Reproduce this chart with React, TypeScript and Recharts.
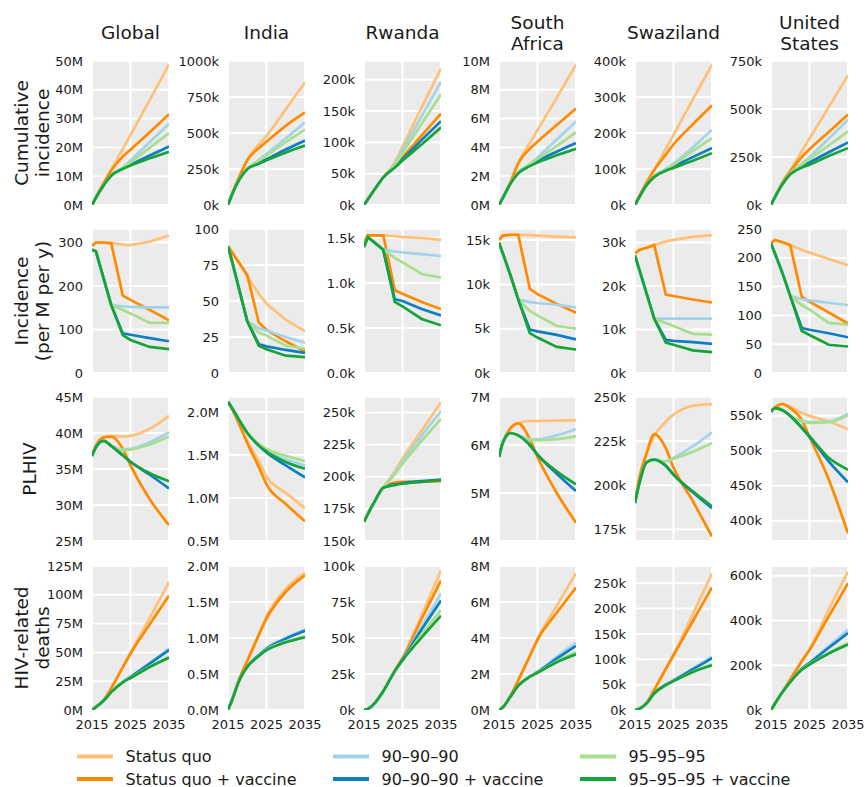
import React from 'react';
import { LineChart, Line, XAxis, YAxis, CartesianGrid } from 'recharts';

const YEARS = [2015, 2016, 2018, 2020, 2023, 2025, 2030, 2035];
const X_DOMAIN: [number, number] = [2015, 2035];
const YEAR_TICKS = [2015, 2025, 2035];

const SCENARIOS = ['Status quo', 'Status quo + vaccine', '90–90–90', '90–90–90 + vaccine', '95–95–95', '95–95–95 + vaccine'];
const COLORS = ['#FFC078', '#FF8A00', '#A3D3E8', '#0E7DC2', '#A8DF8E', '#16A33A'];

const REGIONS = [['Global'], ['India'], ['Rwanda'], ['South', 'Africa'], ['Swaziland'], ['United', 'States']];
const MEASURES = [['Cumulative', 'incidence'], ['Incidence', '(per M per y)'], ['PLHIV'], ['HIV-related', 'deaths']];

// series order in every panel: SQ, SQ+vaccine, 90, 90+vaccine, 95, 95+vaccine

// cumulative incidence
const globalCum = [
  [0, 2.6, 7.5, 12.3, 19.5, 24.3, 36.5, 48.8],
  [0, 2.6, 7.5, 12.0, 16.8, 19.2, 25.3, 31.5],
  [0, 2.5, 6.8, 10.3, 13.0, 15.5, 21.8, 28.2],
  [0, 2.5, 6.8, 10.2, 12.7, 14.0, 17.2, 20.3],
  [0, 2.5, 6.8, 10.3, 12.9, 14.8, 19.9, 25.0],
  [0, 2.5, 6.8, 10.2, 12.5, 13.7, 16.2, 18.5],
];
const indiaCum = [
  [0, 75, 200, 315, 420, 480, 665, 853],
  [0, 75, 200, 310, 395, 440, 550, 643],
  [0, 70, 180, 252, 312, 355, 462, 573],
  [0, 70, 180, 250, 292, 318, 385, 448],
  [0, 70, 180, 252, 308, 345, 437, 524],
  [0, 70, 180, 249, 287, 310, 365, 413],
];
const rwandaCum = [
  [0, 9, 27, 44, 68, 93, 156, 218],
  [0, 9, 27, 44, 62, 76, 111, 146],
  [0, 9, 27, 44, 66, 88, 142, 197],
  [0, 9, 27, 44, 61, 73, 104, 134],
  [0, 9, 27, 44, 64, 83, 130, 177],
  [0, 9, 27, 44, 60, 71, 97, 124],
];
const southAfricaCum = [
  [0, 0.5, 1.6, 2.9, 4.3, 5.2, 7.45, 9.74],
  [0, 0.5, 1.6, 2.9, 3.9, 4.4, 5.55, 6.7],
  [0, 0.5, 1.5, 2.25, 2.85, 3.3, 4.55, 5.8],
  [0, 0.5, 1.5, 2.25, 2.75, 3.05, 3.7, 4.3],
  [0, 0.5, 1.5, 2.25, 2.83, 3.2, 4.1, 5.05],
  [0, 0.5, 1.5, 2.2, 2.7, 2.95, 3.45, 3.9],
];
const swazilandCum = [
  [0, 22, 62, 98, 156, 195, 293, 390],
  [0, 22, 62, 97, 140, 168, 224, 277],
  [0, 20, 55, 80, 100, 115, 160, 209],
  [0, 20, 55, 79, 97, 107, 133, 158],
  [0, 20, 55, 80, 99, 112, 150, 186],
  [0, 20, 55, 78, 95, 103, 123, 144],
];
const usCum = [
  [0, 42, 120, 180, 280, 345, 510, 676],
  [0, 42, 118, 175, 250, 290, 380, 471],
  [0, 40, 112, 165, 215, 250, 345, 445],
  [0, 40, 110, 162, 200, 222, 275, 326],
  [0, 40, 112, 163, 210, 240, 310, 384],
  [0, 40, 110, 160, 195, 210, 255, 296],
];

// incidence per million per year
const globalInc = [
  [292, 300, 300, 299, 295, 294, 302, 316],
  [292, 300, 300, 298, 178, 168, 145, 121],
  [283, 280, 218, 156, 153, 152, 151, 151],
  [283, 280, 218, 156, 91, 88, 80, 73],
  [283, 280, 218, 156, 145, 137, 115, 115],
  [283, 280, 218, 156, 87, 76, 60, 55],
];
const indiaInc = [
  [88, 84, 76, 67, 55, 48, 37, 29],
  [88, 84, 76, 68, 35, 30, 22, 15],
  [88, 78, 57, 36, 31, 29.5, 25, 21],
  [88, 78, 57, 36, 20, 18.5, 16, 14],
  [88, 78, 57, 36, 28, 26, 19, 17],
  [88, 78, 57, 36, 19, 16.5, 12, 11],
];
const rwandaInc = [
  [1.45, 1.53, 1.53, 1.53, 1.52, 1.51, 1.5, 1.48],
  [1.45, 1.53, 1.53, 1.53, 0.92, 0.88, 0.79, 0.71],
  [1.4, 1.51, 1.44, 1.37, 1.35, 1.34, 1.32, 1.3],
  [1.4, 1.51, 1.44, 1.37, 0.82, 0.8, 0.71, 0.64],
  [1.4, 1.51, 1.44, 1.37, 1.28, 1.23, 1.1, 1.06],
  [1.4, 1.51, 1.44, 1.37, 0.79, 0.74, 0.6, 0.53],
];
const southAfricaInc = [
  [15.0, 15.5, 15.6, 15.6, 15.55, 15.5, 15.4, 15.3],
  [15.0, 15.5, 15.6, 15.6, 9.5, 8.9, 7.8, 6.8],
  [14.7, 13.5, 11.0, 8.3, 8.0, 7.9, 7.7, 7.4],
  [14.7, 13.5, 11.0, 8.3, 4.9, 4.7, 4.3, 3.8],
  [14.7, 13.5, 11.0, 8.3, 7.0, 6.5, 5.3, 5.0],
  [14.7, 13.5, 11.0, 8.3, 4.5, 4.0, 2.95, 2.65],
];
const swazilandInc = [
  [27.5, 28.2, 28.8, 29.4, 30.2, 30.6, 31.3, 31.7],
  [27.5, 28.2, 28.8, 29.4, 18.0, 17.7, 16.9, 16.2],
  [27.0, 24.1, 18.3, 12.5, 12.5, 12.5, 12.5, 12.5],
  [27.0, 24.1, 18.3, 12.5, 7.6, 7.4, 7.1, 6.7],
  [27.0, 24.1, 18.3, 12.5, 11.5, 10.8, 9.0, 8.8],
  [27.0, 24.1, 18.3, 12.5, 7.0, 6.5, 5.2, 4.8],
];
const usInc = [
  [225, 231, 227, 222, 214, 209, 198, 187],
  [225, 231, 227, 222, 132, 124, 105, 86],
  [225, 208, 173, 134, 128, 126, 122, 118],
  [225, 208, 173, 134, 78, 75, 69, 62],
  [225, 208, 173, 134, 118, 110, 87, 84],
  [225, 208, 173, 134, 73, 66, 49, 46],
];

// people living with HIV
const globalPlhiv = [
  [36.9, 38.2, 39.4, 39.6, 39.5, 39.6, 40.6, 42.4],
  [36.9, 38.2, 39.4, 39.5, 37.8, 35.5, 30.8, 27.2],
  [36.8, 38.0, 38.9, 38.2, 37.7, 37.8, 38.7, 40.1],
  [36.8, 38.0, 38.9, 38.2, 36.9, 36.0, 34.2, 32.3],
  [36.8, 38.0, 38.9, 38.2, 37.6, 37.7, 38.4, 39.5],
  [36.8, 38.0, 38.9, 38.2, 36.9, 36.0, 34.4, 33.3],
];
const indiaPlhiv = [
  [2.12, 2.04, 1.85, 1.66, 1.43, 1.25, 1.06, 0.88],
  [2.12, 2.04, 1.85, 1.64, 1.36, 1.16, 0.93, 0.73],
  [2.12, 2.05, 1.9, 1.76, 1.62, 1.55, 1.45, 1.38],
  [2.12, 2.05, 1.9, 1.76, 1.61, 1.53, 1.38, 1.24],
  [2.12, 2.05, 1.9, 1.76, 1.63, 1.57, 1.49, 1.43],
  [2.12, 2.05, 1.9, 1.76, 1.61, 1.54, 1.42, 1.34],
];
const rwandaPlhiv = [
  [165, 171, 182, 191.5, 204, 214, 236, 258],
  [165, 171, 182, 191.5, 195.5, 196, 196.3, 196.5],
  [165, 171, 182, 191.5, 203, 212, 232, 251],
  [165, 171, 182, 191.5, 194, 195, 196.5, 197.5],
  [165, 171, 182, 191.5, 202, 210, 228, 245],
  [165, 171, 182, 191.5, 193.5, 194.5, 196, 197.5],
];
const southAfricaPlhiv = [
  [5.78, 6.05, 6.35, 6.45, 6.5, 6.5, 6.51, 6.52],
  [5.78, 6.05, 6.35, 6.45, 6.12, 5.75, 5.0, 4.38],
  [5.75, 6.05, 6.25, 6.2, 6.12, 6.12, 6.2, 6.33],
  [5.75, 6.05, 6.25, 6.2, 6.0, 5.8, 5.4, 5.04],
  [5.75, 6.05, 6.25, 6.2, 6.1, 6.1, 6.12, 6.18],
  [5.75, 6.05, 6.25, 6.2, 6.0, 5.8, 5.45, 5.18],
];
const swazilandPlhiv = [
  [190, 203, 218, 228, 236, 240, 245, 246],
  [190, 203, 218, 229, 221, 210, 191, 171],
  [190, 200, 213, 214.5, 213.5, 215.5, 222, 230],
  [190, 200, 213, 214.5, 211, 206, 196, 187],
  [190, 200, 213, 214.5, 213.5, 215, 219, 224],
  [190, 200, 213, 214.5, 211, 206, 196.5, 188],
];
const usPlhiv = [
  [556, 562, 567, 563, 554, 550, 542, 531],
  [556, 562, 567, 561, 544, 520, 459, 382],
  [556, 561, 558, 550, 543, 541, 542, 553],
  [556, 561, 558, 550, 533, 520, 485, 455],
  [556, 561, 558, 550, 542, 540, 541, 551],
  [556, 561, 558, 550, 533, 521, 490, 473],
];

// cumulative HIV-related deaths
const globalDeaths = [
  [0, 2.5, 8.5, 19, 37.5, 49.5, 80, 111],
  [0, 2.5, 8.5, 19, 37, 49, 74.5, 99.4],
  [0, 2.5, 8, 15.5, 24.5, 29, 41, 53],
  [0, 2.5, 8, 15.5, 24.3, 28.6, 40.3, 52],
  [0, 2.5, 8, 15.5, 24, 28, 37.8, 46.3],
  [0, 2.5, 8, 15.5, 24, 27.8, 37.3, 45.3],
];
const indiaDeaths = [
  [0, 0.14, 0.44, 0.68, 1.05, 1.3, 1.68, 1.91],
  [0, 0.14, 0.44, 0.68, 1.04, 1.27, 1.64, 1.87],
  [0, 0.13, 0.42, 0.6, 0.76, 0.86, 1.0, 1.12],
  [0, 0.13, 0.42, 0.6, 0.76, 0.85, 0.99, 1.1],
  [0, 0.13, 0.42, 0.6, 0.75, 0.84, 0.95, 1.02],
  [0, 0.13, 0.42, 0.6, 0.75, 0.83, 0.94, 1.01],
];
const rwandaDeaths = [
  [0, 0.8, 5.5, 13, 27.5, 36, 66, 97],
  [0, 0.8, 5.5, 13, 27.5, 36, 63.5, 90],
  [0, 0.8, 5.5, 13, 27, 35, 58, 81],
  [0, 0.8, 5.5, 13, 27, 35, 56, 76],
  [0, 0.8, 5.5, 13, 27, 34.5, 52.5, 69.5],
  [0, 0.8, 5.5, 13, 27, 34.5, 50.5, 65.5],
];
const southAfricaDeaths = [
  [0, 0.15, 0.8, 1.65, 3.0, 3.95, 5.8, 7.6],
  [0, 0.15, 0.8, 1.65, 3.0, 3.9, 5.4, 6.8],
  [0, 0.15, 0.75, 1.35, 1.85, 2.12, 2.95, 3.74],
  [0, 0.15, 0.75, 1.35, 1.85, 2.1, 2.85, 3.56],
  [0, 0.15, 0.75, 1.35, 1.85, 2.08, 2.7, 3.22],
  [0, 0.15, 0.75, 1.35, 1.85, 2.07, 2.65, 3.09],
];
const swazilandDeaths = [
  [0, 2, 14, 40, 81, 109, 189, 269],
  [0, 2, 14, 40, 81, 108, 175, 242],
  [0, 2, 13, 33, 50, 59, 82, 105],
  [0, 2, 13, 33, 50, 58, 80, 102],
  [0, 2, 13, 33, 49, 57, 75.5, 90],
  [0, 2, 13, 33, 49, 57, 75, 88],
];
const usDeaths = [
  [0, 28, 82, 137, 218, 270, 449, 618],
  [0, 28, 82, 137, 218, 268, 418, 566],
  [0, 28, 80, 125, 185, 212, 285, 358],
  [0, 28, 80, 125, 184, 210, 278, 344],
  [0, 28, 80, 125, 182, 205, 255, 299],
  [0, 28, 80, 125, 180, 203, 252, 292],
];

type Axis = { domain: [number, number]; ticks: number[]; unit: string; digits: number };

const cumAxes: Axis[] = [
  { domain: [0, 50], ticks: [0, 10, 20, 30, 40, 50], unit: 'M', digits: 0 },
  { domain: [0, 1000], ticks: [0, 250, 500, 750, 1000], unit: 'k', digits: 0 },
  { domain: [0, 230], ticks: [0, 50, 100, 150, 200], unit: 'k', digits: 0 },
  { domain: [0, 10], ticks: [0, 2, 4, 6, 8, 10], unit: 'M', digits: 0 },
  { domain: [0, 400], ticks: [0, 100, 200, 300, 400], unit: 'k', digits: 0 },
  { domain: [0, 750], ticks: [0, 250, 500, 750], unit: 'k', digits: 0 },
];
const incAxes: Axis[] = [
  { domain: [0, 331], ticks: [0, 100, 200, 300], unit: '', digits: 0 },
  { domain: [0, 100], ticks: [0, 25, 50, 75, 100], unit: '', digits: 0 },
  { domain: [0, 1.6], ticks: [0, 0.5, 1, 1.5], unit: 'k', digits: 1 },
  { domain: [0, 16.25], ticks: [0, 5, 10, 15], unit: 'k', digits: 0 },
  { domain: [0, 33.1], ticks: [0, 10, 20, 30], unit: 'k', digits: 0 },
  { domain: [0, 250], ticks: [0, 50, 100, 150, 200, 250], unit: '', digits: 0 },
];
const plhivAxes: Axis[] = [
  { domain: [25, 45], ticks: [25, 30, 35, 40, 45], unit: 'M', digits: 0 },
  { domain: [0.5, 2.175], ticks: [0.5, 1, 1.5, 2], unit: 'M', digits: 1 },
  { domain: [150, 262], ticks: [150, 175, 200, 225, 250], unit: 'k', digits: 0 },
  { domain: [4, 7], ticks: [4, 5, 6, 7], unit: 'M', digits: 0 },
  { domain: [168.4, 250], ticks: [175, 200, 225, 250], unit: 'k', digits: 0 },
  { domain: [371, 577], ticks: [400, 450, 500, 550], unit: 'k', digits: 0 },
];
const deathAxes: Axis[] = [
  { domain: [0, 125], ticks: [0, 25, 50, 75, 100, 125], unit: 'M', digits: 0 },
  { domain: [0, 2], ticks: [0, 0.5, 1, 1.5, 2], unit: 'M', digits: 1 },
  { domain: [0, 100], ticks: [0, 25, 50, 75, 100], unit: 'k', digits: 0 },
  { domain: [0, 8], ticks: [0, 2, 4, 6, 8], unit: 'M', digits: 0 },
  { domain: [0, 284], ticks: [0, 50, 100, 150, 200, 250], unit: 'k', digits: 0 },
  { domain: [0, 643], ticks: [0, 200, 400, 600], unit: 'k', digits: 0 },
];

const ROWS = [
  { panels: [globalCum, indiaCum, rwandaCum, southAfricaCum, swazilandCum, usCum], axes: cumAxes, curve: 'monotone' },
  { panels: [globalInc, indiaInc, rwandaInc, southAfricaInc, swazilandInc, usInc], axes: incAxes, curve: 'linear' },
  { panels: [globalPlhiv, indiaPlhiv, rwandaPlhiv, southAfricaPlhiv, swazilandPlhiv, usPlhiv], axes: plhivAxes, curve: 'monotone' },
  { panels: [globalDeaths, indiaDeaths, rwandaDeaths, southAfricaDeaths, swazilandDeaths, usDeaths], axes: deathAxes, curve: 'monotone' },
];

const COL_LEFT = [92, 228, 364, 499, 635, 771];
const ROW_TOP = [61, 229, 397, 566];
const PANEL_W = 77;
const PANEL_H = 144;
const Y_W = 70;
const PAD = 10;
const RIGHT = 20;
const FONT = 'DejaVu Sans, sans-serif';
const INK = '#1a1a1a';

// x of the year grid lines inside each chart's svg (plot area starts right after the y axis)
const yearGridX = YEAR_TICKS.map(
  (t) => Y_W + (PANEL_W * (t - X_DOMAIN[0])) / (X_DOMAIN[1] - X_DOMAIN[0])
);

function Panel({ series, axis, curve, showX, left, top }: any) {
  const data = YEARS.map((year, i) => {
    const row: any = { year };
    series.forEach((s: number[], k: number) => { row['s' + k] = s[i]; });
    return row;
  });
  const fmt = (v: number) => v.toFixed(axis.digits) + axis.unit;
  const bottom = showX ? 30 : 1;
  return (
    <div style={{ position: 'absolute', left: left - Y_W, top: top - PAD }}>
      <LineChart
        width={Y_W + PANEL_W + RIGHT}
        height={PAD + PANEL_H + PAD + bottom}
        data={data}
        margin={{ top: PAD, right: RIGHT, bottom: PAD, left: 0 }}
      >
        {showX ? (
          <CartesianGrid fill="#EBEBEB" stroke="#ffffff" strokeWidth={2} />
        ) : (
          <CartesianGrid fill="#EBEBEB" stroke="#ffffff" strokeWidth={2} verticalPoints={yearGridX} />
        )}
        <XAxis
          dataKey="year"
          type="number"
          domain={X_DOMAIN}
          ticks={YEAR_TICKS}
          interval={0}
          allowDataOverflow
          axisLine={false}
          tickLine={false}
          height={bottom}
          tickMargin={4}
          tick={showX ? { fill: INK, fontSize: 13, fontFamily: FONT } : false}
        />
        <YAxis
          type="number"
          domain={axis.domain}
          ticks={axis.ticks}
          interval={0}
          allowDataOverflow
          width={Y_W}
          axisLine={false}
          tickLine={false}
          tickMargin={3}
          tickFormatter={fmt}
          tick={{ fill: INK, fontSize: 13, fontFamily: FONT }}
        />
        {COLORS.map((c, k) => (
          <Line
            key={k}
            dataKey={'s' + k}
            type={curve}
            stroke={c}
            strokeWidth={2.7}
            dot={false}
            isAnimationActive={false}
          />
        ))}
      </LineChart>
    </div>
  );
}

export default function App() {
  const legendX = [77, 333, 580];
  const legendY = [756.5, 779];
  return (
    <div style={{ position: 'absolute', left: 0, top: 0, width: 865, height: 787, background: '#fff', fontFamily: FONT }}>
      {ROWS.map((row, r) =>
        row.panels.map((series, c) => (
          <Panel
            key={r + '-' + c}
            series={series}
            axis={row.axes[c]}
            curve={row.curve}
            showX={r === ROWS.length - 1}
            left={COL_LEFT[c]}
            top={ROW_TOP[r]}
          />
        ))
      )}
      <svg width={865} height={787} style={{ position: 'absolute', left: 0, top: 0, pointerEvents: 'none' }}>
        {REGIONS.map((lines, c) => {
          const cx = COL_LEFT[c] + PANEL_W / 2;
          const ys = lines.length === 1 ? [32.5] : [22, 43];
          return lines.map((t, i) => (
            <text key={c + '-' + i} x={cx} y={ys[i]} textAnchor="middle" dominantBaseline="central"
              fontSize={18.5} fill={INK} fontFamily={FONT}>{t}</text>
          ));
        })}
        {MEASURES.map((lines, r) => {
          const cy = ROW_TOP[r] + PANEL_H / 2;
          const xs = lines.length === 1 ? [29] : [21.5, 42.5];
          return lines.map((t, i) => (
            <text key={r + '-' + i} transform={`translate(${xs[i]},${cy}) rotate(-90)`} textAnchor="middle"
              dominantBaseline="central" fontSize={18.5} fill={INK} fontFamily={FONT}>{t}</text>
          ));
        })}
        {SCENARIOS.map((name, k) => {
          const col = Math.floor(k / 2);
          const rw = k % 2;
          const x = legendX[col];
          const y = legendY[rw];
          return (
            <g key={name}>
              <line x1={x} x2={x + 36} y1={y} y2={y} stroke={COLORS[k]} strokeWidth={4} />
              <text x={x + 48.5} y={y} dominantBaseline="central" fontSize={16} fill={INK} fontFamily={FONT}>{name}</text>
            </g>
          );
        })}
      </svg>
    </div>
  );
}
